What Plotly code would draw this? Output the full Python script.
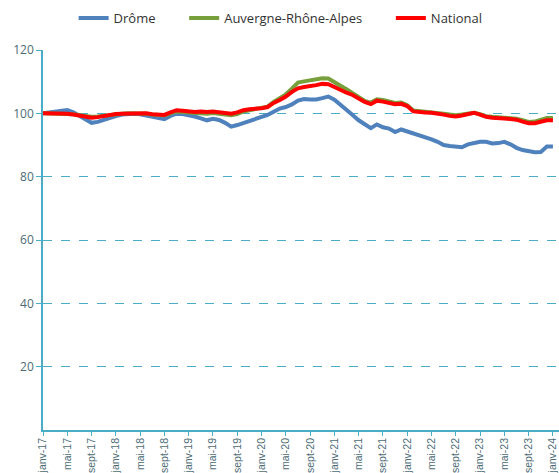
import plotly.graph_objects as go

month_names = ["janv", "févr", "mars", "avr", "mai", "juin", "juil", "août", "sept", "oct", "nov", "déc"]
months = [f"{month_names[i % 12]}-{17 + i // 12}" for i in range(85)]

drome = [100.0, 100.3, 100.5, 100.8, 101.0, 100.3, 99.2, 98.0, 97.0, 97.3, 98.0, 98.5,
         99.1, 99.6, 99.9, 99.9, 99.7, 99.3, 98.7, 98.5, 98.2, 99.2, 99.9, 99.8,
         99.5, 99.0, 98.4, 97.8, 98.3, 97.9, 97.0, 95.8, 96.3, 96.9, 97.6, 98.3,
         98.9, 99.5, 100.5, 101.5, 102.0, 102.8, 104.0, 104.5, 104.4, 104.4, 104.8, 105.3,
         104.3, 102.8, 101.2, 99.5, 97.8, 96.5, 95.3, 96.5, 95.6, 95.2, 94.1, 94.9,
         94.3, 93.6, 93.0, 92.6, 91.8, 91.0, 90.0, 89.7, 89.5, 89.3, 90.2, 90.6,
         91.0, 91.0, 90.5, 90.6, 91.0, 90.2, 89.1, 88.4, 87.9, 87.7, 87.8, 89.5,
         89.5]

national = [100.0, 100.0, 100.0, 100.0, 99.9, 99.6, 99.2, 98.8, 98.6, 98.8, 99.2, 99.5,
            99.8, 99.9, 100.0, 100.0, 100.0, 100.0, 99.7, 99.5, 99.5, 100.3, 101.0, 100.8,
            100.6, 100.4, 100.6, 100.4, 100.6, 100.3, 100.1, 99.9, 100.3, 101.0, 101.3, 101.4,
            101.6, 102.0, 103.3, 104.2, 105.3, 106.8, 107.9, 108.3, 108.5, 108.9, 109.3, 109.2,
            108.3, 107.3, 106.5, 105.8, 104.7, 103.6, 102.9, 104.0, 103.7, 103.3, 102.9, 103.0,
            102.3, 100.6, 100.3, 100.3, 100.2, 100.0, 99.6, 99.2, 99.0, 99.3, 99.8, 100.2,
            99.6, 98.9, 98.6, 98.6, 98.4, 98.2, 98.0, 97.4, 96.9, 96.9, 97.4, 97.8,
            97.8]

ara = [100.0, 100.0, 100.0, 100.0, 99.9, 99.7, 99.4, 99.0, 98.9, 99.0, 99.3, 99.6,
       99.8, 99.9, 100.0, 100.0, 100.0, 99.9, 99.6, 99.3, 99.3, 100.0, 100.6, 100.4,
       100.2, 100.0, 100.1, 99.9, 100.1, 99.8, 99.6, 99.4, 99.8, 100.6, 101.0, 101.3,
       101.6, 102.1, 103.6, 104.7, 106.0, 107.8, 109.7, 110.1, 110.5, 110.8, 111.1, 111.0,
       109.7, 108.7, 107.6, 106.3, 105.1, 103.9, 103.4, 104.4, 104.2, 103.8, 103.3, 103.4,
       102.6, 100.9, 100.7, 100.6, 100.6, 100.3, 99.9, 99.6, 99.4, 99.6, 100.0, 100.2,
       99.7, 99.1, 98.9, 98.8, 98.6, 98.4, 98.3, 97.8, 97.3, 97.4, 98.0, 98.5,
       98.5]

tick_idx = list(range(0, 85, 4))
tick_labels = [months[i] for i in tick_idx]
y_ticks = [20, 40, 60, 80, 100, 120]

teal = "#4BACC6"
x = list(range(len(months)))
pad = "\u00a0" * 7

fig = go.Figure()
fig.add_trace(go.Scatter(x=x, y=drome, mode="lines", name="Drôme" + pad,
                         line=dict(color="#4F81BD", width=4)))
fig.add_trace(go.Scatter(x=x, y=ara, mode="lines", name="Auvergne-Rhône-Alpes" + pad,
                         line=dict(color="#77A03C", width=4)))
fig.add_trace(go.Scatter(x=x, y=national, mode="lines", name="National",
                         line=dict(color="#FF0000", width=4)))

fig.update_layout(
    width=559, height=473,
    margin=dict(l=43, r=0, t=50, b=43),
    paper_bgcolor="white", plot_bgcolor="white",
    font=dict(family="Open Sans, Liberation Sans, sans-serif", color="#404040"),
    showlegend=True,
    legend=dict(orientation="h", xref="container", yref="container",
                x=0.502, xanchor="center", y=0.962, yanchor="middle",
                font=dict(size=13, color="#333333"), itemwidth=30,
                bgcolor="rgba(0,0,0,0)"),
    xaxis=dict(range=[0, 85], tickmode="array", tickvals=tick_idx, ticktext=tick_labels,
               tickangle=-90, showgrid=False, zeroline=False,
               showline=True, linecolor=teal, linewidth=1.5,
               ticks="outside", ticklen=4, tickcolor=teal, ticklabelstandoff=-2,
               tickfont=dict(family="Liberation Sans, Arial, sans-serif", size=10.5,
                             color="#4d6b75"),
               automargin=False),
    yaxis=dict(range=[0, 120], tickvals=y_ticks, showgrid=True, gridcolor=teal,
               griddash="dash", gridwidth=1, zeroline=False,
               showline=True, linecolor=teal, linewidth=1.5,
               ticks="outside", ticklen=5, tickcolor=teal,
               tickfont=dict(size=12, color="#4d6b75"), automargin=False),
)

fig.write_html("out.html", config={"displayModeBar": False},
               post_script="document.body.style.margin='0';document.body.style.overflow='hidden';")
